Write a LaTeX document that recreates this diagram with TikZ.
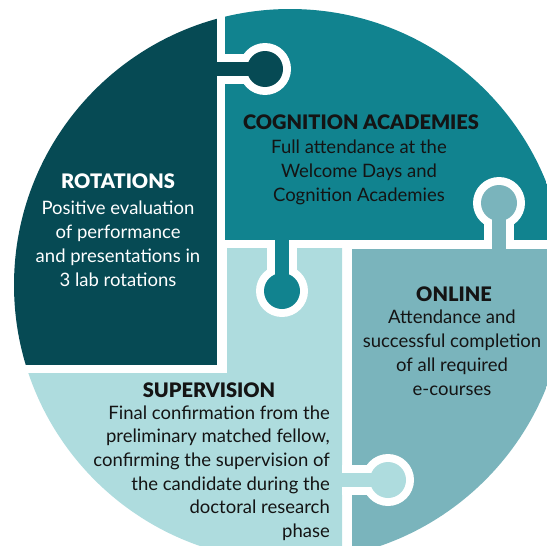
\documentclass[tikz,border=0pt]{standalone}
\usepackage{fontspec}
\setmainfont{Lato}[BoldFont={Lato Black}]
\definecolor{cdark}{HTML}{064A54}
\definecolor{cteal}{HTML}{11838F}
\definecolor{conline}{HTML}{7AB4BC}
\definecolor{clight}{HTML}{AEDCDE}
\definecolor{ctext}{HTML}{141414}
\tikzset{
  ptitle/.style={font=\fontsize{20}{24}\selectfont\bfseries, inner sep=0pt},
  pbody/.style={font=\fontsize{18.5}{24}\selectfont, inner sep=0pt, align=center},
  pbodyr/.style={font=\fontsize{18.5}{23.6}\selectfont, inner sep=0pt, align=right, anchor=east},
}
\begin{document}
\begin{tikzpicture}[x=1pt,y=-1pt]
\useasboundingbox (0,0) rectangle (546,546);
\begin{scope}
  \clip (290,285) circle (276pt);
  % base pieces
  \fill[cdark] (0,0) rectangle (217,365);
  \fill[cteal] (225,0) rectangle (580,240);
  \fill[clight] (227,248) -- (342,248) -- (342,580) -- (0,580) -- (0,373) -- (227,373) -- cycle;
  \fill[conline] (352,249) rectangle (580,580);
  % white rings around knobs
  \fill[white] (265,69) circle (26pt);
  \fill[white] (217,54) rectangle (265,84);
  \fill[white] (282,291) circle (26pt);
  \fill[white] (267,240) rectangle (297,291);
  \fill[white] (388,480) circle (26pt);
  \fill[white] (342,465) rectangle (388,495);
  \fill[white] (499,203) circle (26pt);
  \fill[white] (484,203) rectangle (514,249);
  % knobs
  \fill[cdark] (265,69) circle (18pt);
  \fill[cdark] (210,62) rectangle (265,76);
  \fill[cteal] (282,291) circle (18pt);
  \fill[cteal] (275,235) rectangle (289,291);
  \fill[clight] (388,480) circle (18pt);
  \fill[clight] (335,473) rectangle (388,487);
  \fill[conline] (499,203) circle (18pt);
  \fill[conline] (492,203) rectangle (506,255);
\end{scope}
% texts
\node[ptitle, text=white] (rotT) at (118,181.5) {ROTATIONS};
\node[pbody, text=white] (rotB) at (118,244) {Positive evaluation\\of performance\\and presentations in\\3 lab rotations};
\node[ptitle, text=ctext] (cogT) at (361,122) {COGNITION ACADEMIES};
\node[pbody, text=ctext] (cogB) at (359,172) {Full attendance at the\\Welcome Days and\\Cognition Academies};
\node[ptitle, text=ctext] (onlT) at (454,294) {ONLINE};
\node[pbody, text=ctext] (onlB) at (452,353) {Attendance and\\successful completion\\of all required\\e-courses};
\node[ptitle, text=ctext] (supT) at (209,390) {SUPERVISION};
\node[pbodyr, text=ctext] (supB) at (330,473) {Final confirmation from the\\preliminary matched fellow,\\confirming the supervision of\\the candidate during the\\doctoral research\\phase};
\end{tikzpicture}
\end{document}
